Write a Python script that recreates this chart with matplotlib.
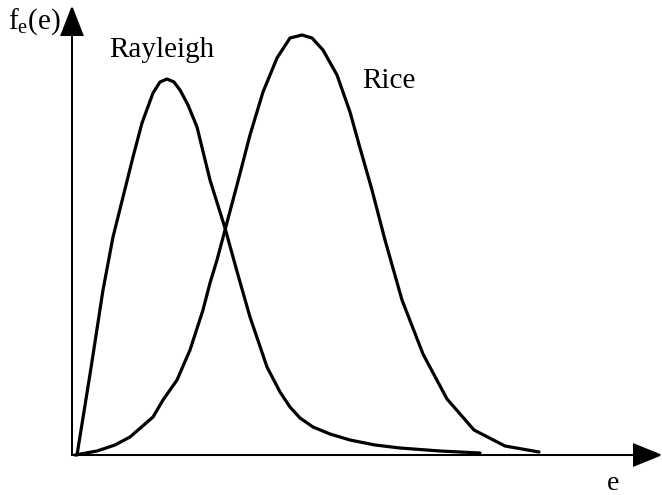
import matplotlib
matplotlib.use("Agg")
import matplotlib.pyplot as plt

plt.rcParams['font.family'] = ['Liberation Serif', 'DejaVu Serif']
plt.rcParams['mathtext.fontset'] = 'custom'
plt.rcParams['mathtext.rm'] = 'Liberation Serif'
plt.rcParams['mathtext.it'] = 'Liberation Serif'

# Rayleigh curve
rayleigh_x = [0.10, 0.38, 0.62, 0.82, 1.02, 1.22, 1.40, 1.62, 1.76, 1.90, 2.04, 2.16, 2.32,
              2.50, 2.76, 3.06, 3.32, 3.56, 3.90, 4.16, 4.36, 4.56, 4.82, 5.16, 5.56, 6.06, 6.56,
              7.36, 8.16]
rayleigh_y = [0.0, 0.87, 1.65, 2.18, 2.58, 2.98, 3.32, 3.62, 3.73, 3.76, 3.73, 3.65, 3.50,
              3.28, 2.75, 2.27, 1.80, 1.38, 0.88, 0.63, 0.48, 0.37, 0.28, 0.21, 0.15, 0.10, 0.07,
              0.04, 0.02]

# Rice curve
rice_x = [0.06, 0.5, 0.86, 1.16, 1.62, 1.82, 2.10, 2.36, 2.62, 2.76, 2.90, 3.06, 3.30, 3.56, 3.82,
          4.10, 4.36, 4.60, 4.80, 5.02, 5.30, 5.56, 5.76, 6.00, 6.26, 6.60, 7.02, 7.50, 8.04, 8.66,
          9.34]
rice_y = [0.0, 0.04, 0.10, 0.18, 0.38, 0.55, 0.75, 1.05, 1.45, 1.72, 1.95, 2.25, 2.70, 3.20, 3.63,
          3.97, 4.17, 4.20, 4.17, 4.05, 3.80, 3.43, 3.07, 2.65, 2.15, 1.55, 1.01, 0.56, 0.25, 0.09,
          0.03]

fig = plt.figure(figsize=(6.62, 4.95), dpi=100)
ax = fig.add_axes([0, 0, 1, 1])
ax.set_xlim(-1.44, 11.8)
ax.set_ylim(-0.4, 4.55)
ax.axis('off')

ax.plot(rayleigh_x, rayleigh_y, color='black', lw=2.3, solid_joinstyle='round', solid_capstyle='round')
ax.plot(rice_x, rice_y, color='black', lw=2.3, solid_joinstyle='round', solid_capstyle='round')

# axes with arrows
ax.arrow(0, 0, 0, 4.47, head_width=0.42, head_length=0.27, length_includes_head=True,
         color='black', lw=1.4, zorder=3)
ax.arrow(0, 0, 11.76, 0, head_width=0.21, head_length=0.52, length_includes_head=True,
         color='black', lw=1.4, zorder=3)

ax.text(-1.27, 4.33, r'f$_\mathregular{e}$(e)', fontsize=21, va='center', ha='left')
ax.text(0.74, 4.05, 'Rayleigh', fontsize=21, va='center', ha='left')
ax.text(5.80, 3.74, 'Rice', fontsize=21, va='center', ha='left')
ax.text(10.82, -0.29, 'e', fontsize=20, va='center', ha='center')

fig.savefig('out.png', dpi=100)
